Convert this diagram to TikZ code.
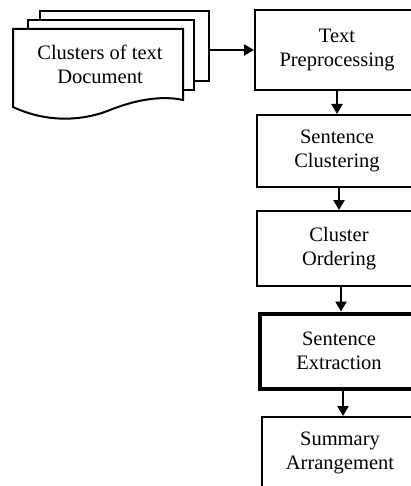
\documentclass[tikz,border=0pt]{standalone}
\usepackage{fontspec}
\setmainfont{Liberation Serif}
\usetikzlibrary{arrows.meta,calc}
\begin{document}
\begin{tikzpicture}[x=1pt,y=-1pt,
  box/.style={draw,line width=2pt,fill=white,align=center,font=\fontsize{20.5}{24}\selectfont,inner sep=0pt},
  page/.style={draw,line width=2pt,fill=white,inner sep=0pt},
  arr/.style={line width=2.3pt,-{Triangle[length=10pt,width=11pt]}}]
\useasboundingbox (0,0) rectangle (411,486);
\clip (0,0) rectangle (411,486);
% back pages
\node[page,minimum width=169pt,minimum height=70pt] (doc3) at (124.5,46) {};
\node[page,minimum width=166pt,minimum height=70pt] (doc2) at (111,55) {};
% front page with wavy bottom
\draw[line width=2pt,fill=white] (13,29) -- (183,29) -- (183,100)
  .. controls (165,96) and (140,98) .. (110,110)
  .. controls (80,122) and (45,122) .. (13,107) -- cycle;
\node[align=center,font=\fontsize{20.5}{24}\selectfont] (doc1) at (100,64) {Clusters of text\\Document};
% process boxes
\node[box,minimum width=164pt,minimum height=80pt] (tp) at (337,50) {Text\\Preprocessing};
\node[box,minimum width=160pt,minimum height=72pt] (sc) at (337,151) {Sentence\\Clustering};
\node[box,minimum width=164pt,minimum height=75pt] (co) at (339,248.5) {Cluster\\Ordering};
\node[box,line width=4pt,minimum width=159pt,minimum height=75pt] (se) at (339,351) {Sentence\\Extraction};
\node[box,minimum width=156pt,minimum height=72pt] (sa) at (340,453) {Summary\\Arrangement};
% connector ends
\coordinate (a1) at ($(tp.west -| doc3.east)$);
\coordinate (b1) at ($(sc.south)+(2,0)$);
\coordinate (b2) at (b1 |- co.north);
\coordinate (c1) at ($(co.south)+(2,0)$);
\coordinate (c2) at (c1 |- se.north);
\coordinate (d1) at ($(se.south)+(4,0)$);
\coordinate (d2) at (d1 |- sa.north);
% connectors
\draw[arr] (a1) -- (tp.west);
\draw[arr] (tp.south) -- (tp.south |- sc.north);
\draw[arr] (b1) -- (b2);
\draw[arr] (c1) -- (c2);
\draw[arr] (d1) -- (d2);
\end{tikzpicture}
\end{document}
